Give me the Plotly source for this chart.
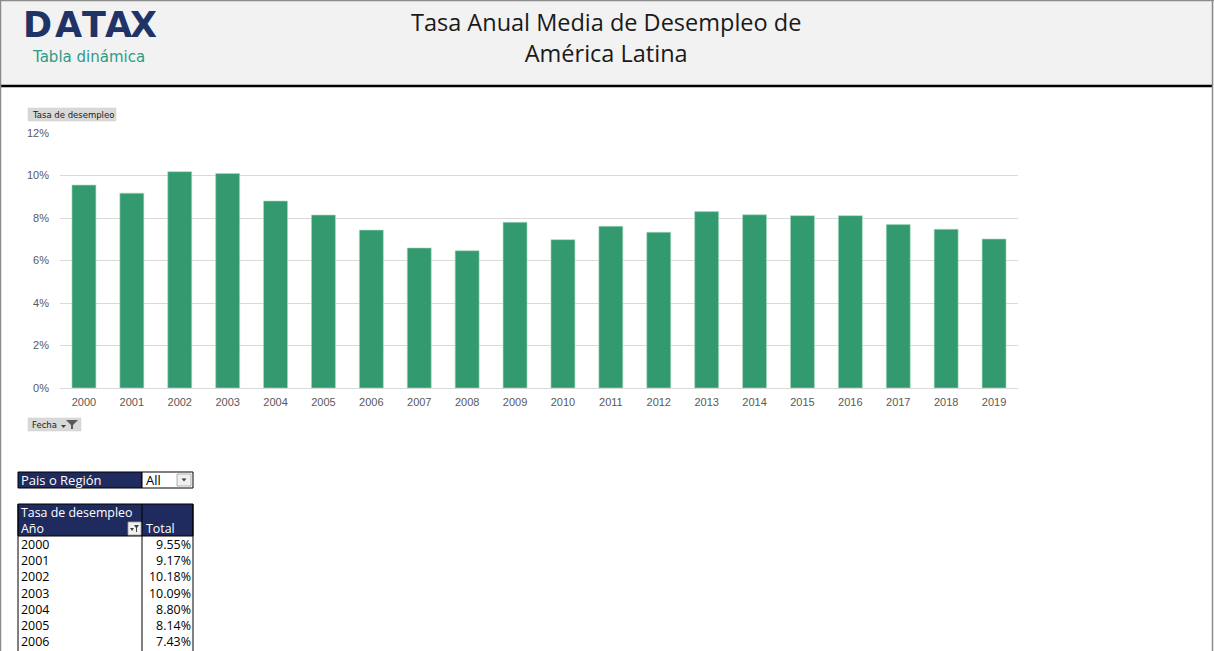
import plotly.graph_objects as go

W, H = 1214, 651

years = [str(y) for y in range(2000, 2020)]
rates = [9.55, 9.17, 10.18, 10.09, 8.80, 8.14, 7.43, 6.59, 6.46, 7.80,
         6.98, 7.61, 7.33, 8.30, 8.15, 8.11, 8.11, 7.69, 7.47, 7.01]
y_ticks = [0, 2, 4, 6, 8, 10, 12]
y_tick_labels = ["0%", "2%", "4%", "6%", "8%", "10%", "12%"]

table_years = years[:7]
table_values = rates[:7]

title_lines = ["Tasa Anual Media de Desempleo de", "América Latina"]
filter_label = "Pais o Región"
filter_value = "All"
logo_letters = ["D", "A", "T", "A", "X"]
logo_centers = [37, 68, 93.5, 118.5, 143.5]

NAVY = "#1f2b5e"
GREEN = "#329a6e"
TFONT = "Open Sans"


def px(x):
    return x / W


def py(y):
    return 1 - y / H


fig = go.Figure()
fig.add_trace(go.Bar(
    x=years, y=rates, marker=dict(color=GREEN, line=dict(color="#a9d8c2", width=0.6)),
    hoverinfo="x+y",
))

shapes = []
ann = []

# header band
shapes.append(dict(type="rect", xref="paper", yref="paper", x0=0, x1=1, y0=py(86), y1=1,
                   fillcolor="#f2f2f2", line=dict(width=0), layer="below"))
shapes.append(dict(type="line", xref="paper", yref="paper", x0=0, x1=px(1212), y0=py(86), y1=py(86),
                   line=dict(color="#000000", width=2.5)))
# page borders
shapes.append(dict(type="line", xref="paper", yref="paper", x0=px(0.5), x1=px(0.5), y0=0, y1=1,
                   line=dict(color="#8c8c8c", width=1.5)))
shapes.append(dict(type="line", xref="paper", yref="paper", x0=px(1212.5), x1=px(1212.5), y0=0, y1=1,
                   line=dict(color="#8c8c8c", width=1.5)))
shapes.append(dict(type="line", xref="paper", yref="paper", x0=0, x1=1, y0=py(0.5), y1=py(0.5),
                   line=dict(color="#8c8c8c", width=1.5)))

# logo
for ch, cx in zip(logo_letters, logo_centers):
    ann.append(dict(text=f"<b>{ch}</b>", x=px(cx), y=py(25.5), xref="paper", yref="paper",
                    xanchor="center", yanchor="middle", showarrow=False,
                    font=dict(family="DejaVu Sans", size=35, color="#1f3366")))
for cx in (67, 116):
    shapes.append(dict(type="line", xref="paper", yref="paper", x0=px(cx - 2), x1=px(cx + 1),
                       y0=py(28), y1=py(32), line=dict(color="#3fa9d6", width=1.5)))
ann.append(dict(text="Tabla dinámica", x=px(30), y=py(57), xref="paper", yref="paper",
                xanchor="left", yanchor="middle", showarrow=False,
                font=dict(family="DejaVu Sans", size=15, color="#2e9a86")))

# title
ann.append(dict(text="<br>".join(title_lines), x=px(606), y=py(37), xref="paper", yref="paper",
                xanchor="center", yanchor="middle", showarrow=False, borderpad=0,
                font=dict(family="Open Sans", size=23.5, color="#1a1a1a")))

# pivot field buttons
shapes.append(dict(type="rect", xref="paper", yref="paper", x0=px(28), x1=px(116), y0=py(121), y1=py(108),
                   fillcolor="#d9d9d9", line=dict(color="#cfcfcf", width=0.5)))
ann.append(dict(text="Tasa de desempleo", x=px(31), y=py(114.5), xref="paper", yref="paper",
                xanchor="left", yanchor="middle", showarrow=False, borderpad=0,
                font=dict(family="DejaVu Sans", size=8.5, color="#1a1a1a")))
shapes.append(dict(type="rect", xref="paper", yref="paper", x0=px(28), x1=px(81), y0=py(431), y1=py(418),
                   fillcolor="#d9d9d9", line=dict(color="#cfcfcf", width=0.5)))
ann.append(dict(text="Fecha", x=px(31), y=py(424.5), xref="paper", yref="paper",
                xanchor="left", yanchor="middle", showarrow=False, borderpad=0,
                font=dict(family="DejaVu Sans", size=8.5, color="#1a1a1a")))
shapes.append(dict(type="path", xref="paper", yref="paper",
                   path=f"M {px(61)} {py(425)} L {px(66)} {py(425)} L {px(63.5)} {py(428)} Z",
                   fillcolor="#404040", line=dict(width=0)))
shapes.append(dict(type="path", xref="paper", yref="paper",
                   path=f"M {px(66)} {py(420)} L {px(78)} {py(420)} L {px(73)} {py(425)} L {px(73)} {py(429)} "
                        f"L {px(71)} {py(429)} L {px(71)} {py(425)} Z",
                   fillcolor="#595959", line=dict(width=0)))

# filter box
shapes.append(dict(type="rect", xref="paper", yref="paper", x0=px(18), x1=px(142), y0=py(488), y1=py(472),
                   fillcolor=NAVY, line=dict(color="#000000", width=1)))
shapes.append(dict(type="rect", xref="paper", yref="paper", x0=px(142), x1=px(193), y0=py(488), y1=py(472),
                   fillcolor="#ffffff", line=dict(color="#000000", width=1)))
shapes.append(dict(type="rect", xref="paper", yref="paper", x0=px(177), x1=px(191), y0=py(486), y1=py(474),
                   fillcolor="#f0f0f0", line=dict(color="#a0a0a0", width=0.8)))
shapes.append(dict(type="path", xref="paper", yref="paper",
                   path=f"M {px(181.5)} {py(478.5)} L {px(186.5)} {py(478.5)} L {px(184)} {py(481.5)} Z",
                   fillcolor="#404040", line=dict(width=0)))
ann.append(dict(text=filter_label, x=px(20), y=py(480), xref="paper", yref="paper",
                xanchor="left", yanchor="middle", showarrow=False, borderpad=0,
                font=dict(family=TFONT, size=13, color="#ffffff")))
ann.append(dict(text=filter_value, x=px(145), y=py(480), xref="paper", yref="paper",
                xanchor="left", yanchor="middle", showarrow=False, borderpad=0,
                font=dict(family=TFONT, size=13, color="#000000")))

# pivot table
shapes.append(dict(type="rect", xref="paper", yref="paper", x0=px(18), x1=px(193), y0=py(536), y1=py(504),
                   fillcolor=NAVY, line=dict(color="#000000", width=1)))
shapes.append(dict(type="line", xref="paper", yref="paper", x0=px(18), x1=px(18), y0=0, y1=py(504),
                   line=dict(color="#000000", width=1)))
shapes.append(dict(type="line", xref="paper", yref="paper", x0=px(193), x1=px(193), y0=0, y1=py(504),
                   line=dict(color="#000000", width=1)))
shapes.append(dict(type="line", xref="paper", yref="paper", x0=px(142), x1=px(142), y0=0, y1=py(504),
                   line=dict(color="#000000", width=1)))
shapes.append(dict(type="rect", xref="paper", yref="paper", x0=px(128), x1=px(141), y0=py(535), y1=py(522),
                   fillcolor="#f0f0f0", line=dict(color="#a0a0a0", width=0.8)))
shapes.append(dict(type="path", xref="paper", yref="paper",
                   path=f"M {px(134)} {py(525)} L {px(139)} {py(525)} L {px(137)} {py(528)} L {px(137)} {py(532)} "
                        f"L {px(136)} {py(532)} L {px(136)} {py(528)} Z",
                   fillcolor="#404040", line=dict(width=0)))
shapes.append(dict(type="path", xref="paper", yref="paper",
                   path=f"M {px(130)} {py(528)} L {px(134)} {py(528)} L {px(132)} {py(531)} Z",
                   fillcolor="#404040", line=dict(width=0)))
ann.append(dict(text="Tasa de desempleo<br>Año", x=px(20), y=py(520), xref="paper", yref="paper",
                xanchor="left", yanchor="middle", align="left", showarrow=False, borderpad=0,
                font=dict(family=TFONT, size=12.4, color="#ffffff")))
ann.append(dict(text="Total", x=px(145), y=py(528), xref="paper", yref="paper",
                xanchor="left", yanchor="middle", showarrow=False, borderpad=0,
                font=dict(family=TFONT, size=12.4, color="#ffffff")))

row_font = 12.45  # line height 1.3 * 12.45 ~ 16.2 px per row
n = len(table_years)
block_center = 544 + (n - 1) * 16.2 / 2
ann.append(dict(text="<br>".join(table_years), x=px(20), y=py(block_center), xref="paper", yref="paper",
                xanchor="left", yanchor="middle", align="left", showarrow=False, borderpad=0,
                font=dict(family=TFONT, size=row_font, color="#000000")))
ann.append(dict(text="<br>".join(f"{v:.2f}%" for v in table_values), x=px(192), y=py(block_center),
                xref="paper", yref="paper", xanchor="right", yanchor="middle", align="right",
                showarrow=False, borderpad=0,
                font=dict(family=TFONT, size=row_font, color="#000000")))

fig.update_layout(
    width=W, height=H, margin=dict(l=0, r=0, t=0, b=0, autoexpand=False),
    paper_bgcolor="#ffffff", plot_bgcolor="#ffffff",
    showlegend=False, bargap=0.5,
    shapes=shapes, annotations=ann,
    xaxis=dict(domain=[px(60), px(1018)], type="category", showgrid=False, automargin=False,
               showline=True, linecolor="#d9d9d9", linewidth=1, ticks="",
               tickfont=dict(family="Liberation Sans", size=11, color="#595959"),
               ticklabelstandoff=4, fixedrange=True),
    yaxis=dict(domain=[py(388), py(133)], range=[0, 12], tickvals=y_ticks, ticktext=y_tick_labels,
               automargin=False,
               showgrid=True, gridcolor="#d9d9d9", gridwidth=1, zeroline=False, showline=False,
               tickfont=dict(family="Liberation Sans", size=11, color="#595959"),
               ticklabelstandoff=10, fixedrange=True),
)

fig.write_html("out.html")
